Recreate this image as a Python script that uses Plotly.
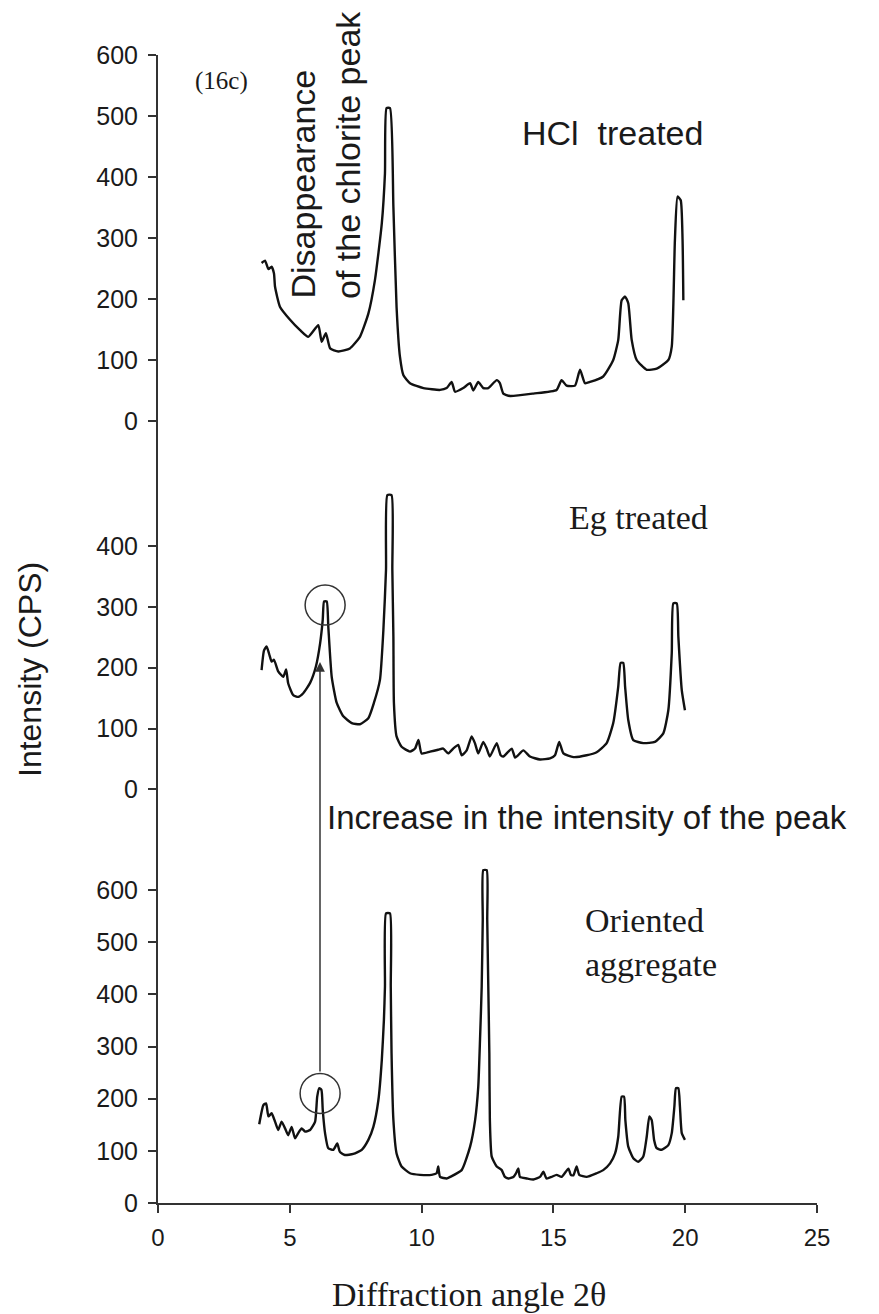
import plotly.graph_objects as go

# ---------------- data ----------------
hcl_x = [3.93, 4.06, 4.19, 4.31, 4.40, 4.44, 4.63, 5.01, 5.39, 5.70, 6.08, 6.21, 6.37, 6.53, 6.84,
         7.28, 7.66, 7.98, 8.23, 8.49, 8.61, 8.67, 8.80, 8.93, 9.05, 9.18, 9.31, 9.56, 10.07, 10.70,
         10.95, 11.14, 11.27, 11.58, 11.84, 11.96, 12.15, 12.34, 12.53, 12.85, 12.97, 13.10, 13.35,
         14.24, 15.12, 15.31, 15.50, 15.82, 16.01, 16.20, 16.39, 16.89, 17.27, 17.46, 17.59, 17.72,
         17.84, 17.97, 18.16, 18.54, 18.92, 19.36, 19.49, 19.61, 19.71, 19.83, 19.90, 19.93]
hcl_y = [259, 263, 249, 253, 242, 220, 187, 166, 149, 138, 157, 130, 144, 119, 114,
         119, 138, 176, 231, 324, 406, 513, 513, 351, 187, 105, 75, 62, 54, 51,
         54, 64, 48, 54, 62, 50, 64, 54, 54, 67, 62, 45, 41,
         45, 51, 67, 58, 58, 84, 62, 64, 73, 100, 133, 198, 204,
         193, 133, 100, 84, 86, 100, 122, 297, 368, 362, 297, 198]

eg_x = [3.93, 4.02, 4.12, 4.22, 4.31, 4.40, 4.56, 4.75, 4.86, 4.94, 5.13, 5.32, 5.51, 5.77, 5.99,
        6.15, 6.25, 6.30, 6.40, 6.46, 6.59, 6.78, 7.03, 7.35, 7.66, 7.98, 8.19, 8.42, 8.55, 8.65,
        8.70, 8.86, 8.89, 8.93, 8.95, 9.05, 9.24, 9.56, 9.75, 9.88, 10.00, 10.32, 10.63, 10.82,
        11.01, 11.20, 11.39, 11.52, 11.71, 11.90, 12.03, 12.15, 12.34, 12.47, 12.59, 12.85, 13.00,
        13.10, 13.42, 13.55, 13.86, 14.11, 14.49, 14.87, 15.06, 15.22, 15.38, 15.76, 16.26, 16.64,
        17.02, 17.27, 17.46, 17.55, 17.65, 17.72, 17.84, 18.03, 18.41, 18.85, 19.17, 19.36, 19.49,
        19.55, 19.68, 19.74, 19.87, 19.99]
eg_y = [196, 228, 235, 222, 210, 213, 194, 185, 197, 174, 155, 152, 158, 175, 202,
        240, 279, 309, 309, 268, 185, 142, 120, 109, 107, 117, 142, 180, 262, 361,
        484, 484, 361, 251, 142, 87, 70, 62, 67, 81, 59, 62, 65, 67,
        59, 67, 73, 56, 64, 87, 75, 59, 78, 67, 54, 76, 56,
        54, 67, 52, 64, 54, 49, 51, 56, 78, 59, 53, 56, 61,
        76, 109, 169, 208, 208, 169, 114, 81, 76, 78, 92, 130, 224,
        306, 306, 251, 163, 130]

oa_x = [3.84, 4.00, 4.10, 4.19, 4.31, 4.44, 4.56, 4.69, 4.82, 4.94, 5.07, 5.20, 5.32, 5.45, 5.58,
        5.77, 5.96, 6.04, 6.12, 6.20, 6.25, 6.34, 6.46, 6.65, 6.80, 6.90, 7.09, 7.41, 7.73, 7.98,
        8.17, 8.36, 8.49, 8.57, 8.61, 8.65, 8.80, 8.83, 8.86, 8.93, 9.05, 9.24, 9.56, 9.94, 10.38,
        10.57, 10.63, 10.70, 10.95, 11.08, 11.52, 11.84, 12.03, 12.15, 12.22, 12.28, 12.32, 12.34,
        12.47, 12.49, 12.53, 12.57, 12.59, 12.66, 12.85, 13.04, 13.16, 13.29, 13.48, 13.58, 13.67,
        13.73, 13.99, 14.24, 14.49, 14.62, 14.74, 14.93, 15.12, 15.31, 15.57, 15.66, 15.76, 15.88,
        15.98, 16.26, 16.64, 16.89, 17.15, 17.34, 17.46, 17.59, 17.68, 17.73, 17.84, 18.03, 18.22,
        18.41, 18.54, 18.64, 18.73, 18.82, 18.92, 19.11, 19.36, 19.49, 19.59, 19.65, 19.74, 19.80,
        19.87, 19.99]
oa_y = [151, 188, 191, 166, 172, 156, 140, 156, 143, 130, 146, 124, 134, 143, 137,
        140, 156, 204, 220, 217, 178, 133, 105, 102, 114, 98, 92, 94, 102, 121,
        146, 197, 274, 351, 415, 555, 555, 415, 287, 159, 95, 70, 57, 54, 54,
        57, 70, 50, 47, 50, 63, 108, 159, 223, 319, 415, 543, 638,
        638, 543, 415, 287, 159, 89, 70, 63, 50, 47, 50, 57, 66,
        50, 47, 45, 50, 60, 47, 50, 54, 50, 66, 54, 53, 70,
        54, 50, 57, 63, 76, 95, 127, 204, 204, 159, 108, 86, 79,
        89, 127, 166, 159, 121, 105, 102, 111, 134, 185, 220, 220, 185,
        134, 121]

x_ticks = [0, 5, 10, 15, 20, 25]
top_ticks = [0, 100, 200, 300, 400, 500, 600]
mid_ticks = [0, 100, 200, 300, 400]
bot_ticks = [0, 100, 200, 300, 400, 500, 600]

# ---------------- layout geometry (pixels) ----------------
W, H = 879, 1314
L, R, T, B = 158, 62, 55, 111
PW, PH = W - L - R, H - T - B
Y0 = H - B  # pixel row of paper y = 0


def px(xp):
    return (xp - L) / PW


def py(yp):
    return (Y0 - yp) / PH


SANS = "Liberation Sans, Arial, sans-serif"
SERIF = "Liberation Serif, Times New Roman, serif"
INK = "#1a1a1a"

fig = go.Figure()
line = dict(color="#111111", width=2.4, shape="spline", smoothing=0.5)
fig.add_trace(go.Scatter(x=hcl_x, y=hcl_y, mode="lines", line=line, xaxis="x", yaxis="y", showlegend=False))
fig.add_trace(go.Scatter(x=eg_x, y=eg_y, mode="lines", line=line, xaxis="x2", yaxis="y2", showlegend=False))
fig.add_trace(go.Scatter(x=oa_x, y=oa_y, mode="lines", line=line, xaxis="x3", yaxis="y3", showlegend=False))

b1 = py(483)  # boundary top / middle
b2 = py(860)  # boundary middle / bottom

yax_common = dict(showline=True, linecolor="#333333", linewidth=2, ticks="outside", ticklen=8,
                  tickwidth=1.5, tickcolor="#333333", showgrid=False, zeroline=False,
                  tickfont=dict(family=SANS, size=25, color=INK), ticklabelstandoff=5, fixedrange=True)
xax_hidden = dict(range=[0, 25], visible=False, showgrid=False, zeroline=False)

fig.update_layout(
    width=W, height=H,
    margin=dict(l=L, r=R, t=T, b=B, pad=0),
    paper_bgcolor="white", plot_bgcolor="white",
    xaxis=dict(domain=[0, 1], anchor="y", **xax_hidden),
    xaxis2=dict(domain=[0, 1], anchor="y2", **xax_hidden),
    xaxis3=dict(domain=[0, 1], anchor="y3", range=[0, 25], tickvals=x_ticks,
                showline=True, linecolor="#333333", linewidth=2, ticks="outside", ticklen=8,
                tickwidth=1.5, tickcolor="#333333", showgrid=False, zeroline=False,
                tickfont=dict(family=SANS, size=24, color=INK), ticklabelstandoff=4),
    yaxis=dict(domain=[b1, 1], anchor="x", range=[-101.6, 600], tickvals=top_ticks, **yax_common),
    yaxis2=dict(domain=[b2, b1], anchor="x2", range=[-116.3, 503.8], tickvals=mid_ticks, **yax_common),
    yaxis3=dict(domain=[0, b2], anchor="x3", range=[0, 657.5], tickvals=bot_ticks, **yax_common),
)

ann = []
# axis titles
ann.append(dict(text="Intensity (CPS)", x=px(30), y=py(670), xref="paper", yref="paper",
                textangle=-90, showarrow=False, font=dict(family=SANS, size=32, color=INK),
                xanchor="center", yanchor="middle"))
ann.append(dict(text="Diffraction angle 2θ", x=px(469), y=py(1294), xref="paper", yref="paper",
                showarrow=False, font=dict(family=SERIF, size=34, color=INK),
                xanchor="center", yanchor="middle"))
# panel labels
ann.append(dict(text="(16c)", x=px(221), y=py(81), xref="paper", yref="paper", showarrow=False,
                font=dict(family=SERIF, size=25, color=INK), xanchor="center", yanchor="middle"))
ann.append(dict(text="HCl\u00a0 treated", x=px(612), y=py(133), xref="paper", yref="paper", showarrow=False,
                font=dict(family=SANS, size=34, color=INK), xanchor="center", yanchor="middle"))
ann.append(dict(text="Disappearance", x=px(302), y=py(301), xref="paper", yref="paper", showarrow=False,
                textangle=-90, font=dict(family=SANS, size=34, color=INK), xanchor="center", yanchor="bottom"))
ann.append(dict(text="of the chlorite peak", x=px(348), y=py(301), xref="paper", yref="paper", showarrow=False,
                textangle=-90, font=dict(family=SANS, size=34, color=INK), xanchor="center", yanchor="bottom"))
ann.append(dict(text="Eg treated", x=px(638), y=py(517), xref="paper", yref="paper", showarrow=False,
                font=dict(family=SERIF, size=34, color=INK), xanchor="center", yanchor="middle"))
ann.append(dict(text="Increase in the intensity of the peak", x=px(325), y=py(818), xref="paper", yref="paper",
                showarrow=False, font=dict(family=SANS, size=33, color=INK), xanchor="left", yanchor="middle"))
ann.append(dict(text="Oriented<br>aggregate", x=px(583), y=py(942), xref="paper", yref="paper", showarrow=False,
                align="left", font=dict(family=SERIF, size=34, color=INK), xanchor="left", yanchor="middle"))
# arrow (tail at the lower circle, head below the upper circle)
ann.append(dict(text="", x=px(320), y=py(662), ax=0, ay=1073 - 662, xref="paper", yref="paper",
                axref="pixel", ayref="pixel", showarrow=True, arrowhead=2, arrowsize=1.3, arrowwidth=1.5,
                arrowcolor="#333333", standoff=0, startstandoff=0))
fig.update_layout(annotations=ann)

# circles around the chlorite peak
shapes = [
    dict(type="circle", xref="x2", yref="y2", xsizemode="pixel", ysizemode="pixel",
         xanchor=6.34, yanchor=303, x0=-20, x1=20, y0=-20, y1=20,
         line=dict(color="#333333", width=1.5)),
    dict(type="circle", xref="x3", yref="y3", xsizemode="pixel", ysizemode="pixel",
         xanchor=6.15, yanchor=210, x0=-20, x1=20, y0=-20, y1=20,
         line=dict(color="#333333", width=1.5)),
]
fig.update_layout(shapes=shapes)

fig.write_html("out.html")
